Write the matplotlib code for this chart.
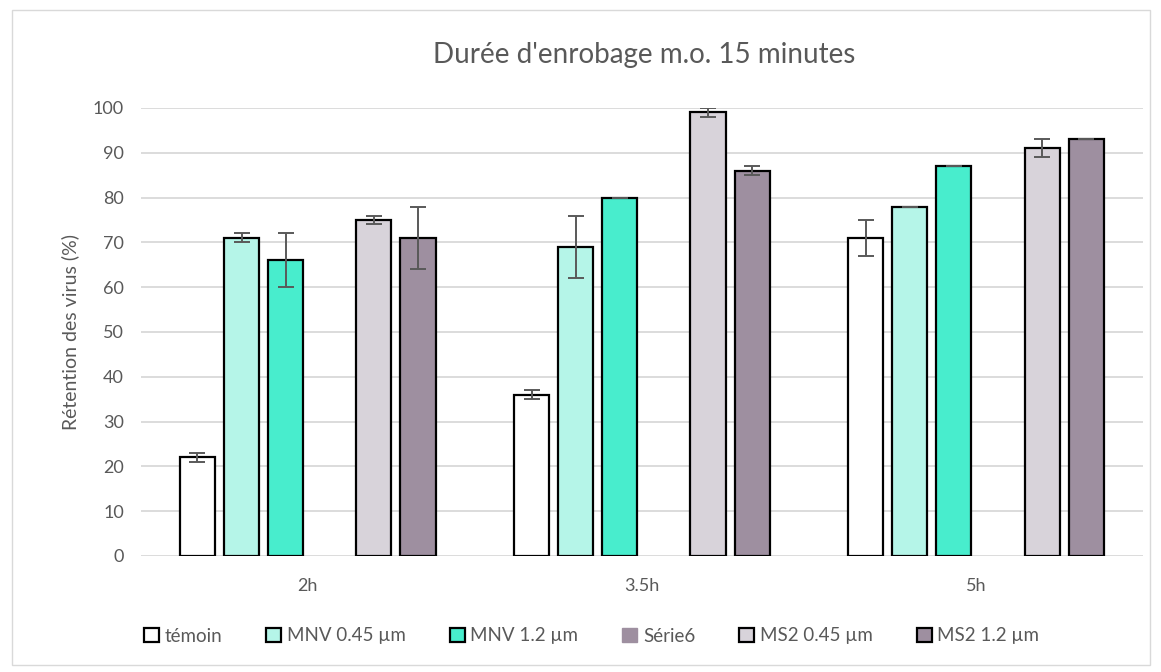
import numpy as np
import matplotlib.pyplot as plt
from matplotlib.patches import Patch, Rectangle

plt.rcParams['font.family'] = ['Lato', 'DejaVu Sans']

categories = ['2h', '3.5h', '5h']
series = ['témoin', 'MNV 0.45 µm', 'MNV 1.2 µm', 'Série6', 'MS2 0.45 µm', 'MS2 1.2 µm']
temoin = [22, 36, 71]
mnv_045 = [71, 69, 78]
mnv_12 = [66, 80, 87]
serie6 = [np.nan, np.nan, np.nan]
ms2_045 = [75, 99, 91]
ms2_12 = [71, 86, 93]
temoin_err = [1, 1, 4]
mnv_045_err = [1, 7, 0]
mnv_12_err = [6, 0, 0]
serie6_err = [0, 0, 0]
ms2_045_err = [1, 1, 2]
ms2_12_err = [7, 1, 0]

values = [temoin, mnv_045, mnv_12, serie6, ms2_045, ms2_12]
errors = [temoin_err, mnv_045_err, mnv_12_err, serie6_err, ms2_045_err, ms2_12_err]
colors = ['#FFFFFF', '#B5F5E8', '#48EDCD', '#9E8FA0', '#D8D3DA', '#9E8FA0']

fig = plt.figure(figsize=(11.61, 6.72), dpi=100)
ax = fig.add_axes([140.7 / 1161, 1 - 556 / 672, (1143 - 140.7) / 1161, 448 / 672])

x = np.arange(len(categories))
pitch = 0.132
width = 0.105
for i, (vals, errs, c) in enumerate(zip(values, errors, colors)):
    if i == 3:
        continue
    pos = x + (i - 2.5) * pitch
    ax.bar(pos, vals, width, color=c, edgecolor='black', linewidth=1.6, zorder=3)
    ax.errorbar(pos, vals, yerr=errs, fmt='none', ecolor='#595959',
                elinewidth=1.4, capsize=5.5, capthick=1.4, zorder=4)

ax.set_xlim(-0.5, 2.5)
ax.set_ylim(0, 100)
ax.set_yticks(range(0, 101, 10))
ax.set_xticks(x)
ax.set_xticklabels(categories)
ax.tick_params(axis='both', length=0, labelsize=13, labelcolor='#595959')
ax.tick_params(axis='x', pad=16)
ax.tick_params(axis='y', pad=12)
ax.grid(axis='y', color='#D9D9D9', linewidth=1.3, zorder=0)
ax.set_axisbelow(True)
for s in ax.spines.values():
    s.set_visible(False)
ax.set_ylabel('Rétention des virus (%)', fontsize=14, color='#595959', labelpad=10)

fig.text(0.5 * (436 + 852) / 1161, 1 - 55 / 672, "Durée d'enrobage m.o. 15 minutes",
         ha='center', va='center', fontsize=20, color='#595959')

handles = []
for i, (name, c) in enumerate(zip(series, colors)):
    if i == 3:
        handles.append(Patch(facecolor=c, edgecolor=c, label=name))
    else:
        handles.append(Patch(facecolor=c, edgecolor='black', linewidth=1.6, label=name))
fig.legend(handles=handles, loc='center', bbox_to_anchor=(0.5 * (143 + 1040) / 1161, 1 - 636 / 672),
           ncol=6, frameon=False, fontsize=13.5, labelcolor='#595959', handlelength=0.8,
           handleheight=0.8, handletextpad=0.3, columnspacing=2.35)

fig.patches.append(Rectangle((12 / 1161, 1 - 665 / 672), 1138 / 1161, 655 / 672,
                             transform=fig.transFigure, fill=False,
                             edgecolor='#D9D9D9', linewidth=1))

fig.savefig('out.png', dpi=100)
